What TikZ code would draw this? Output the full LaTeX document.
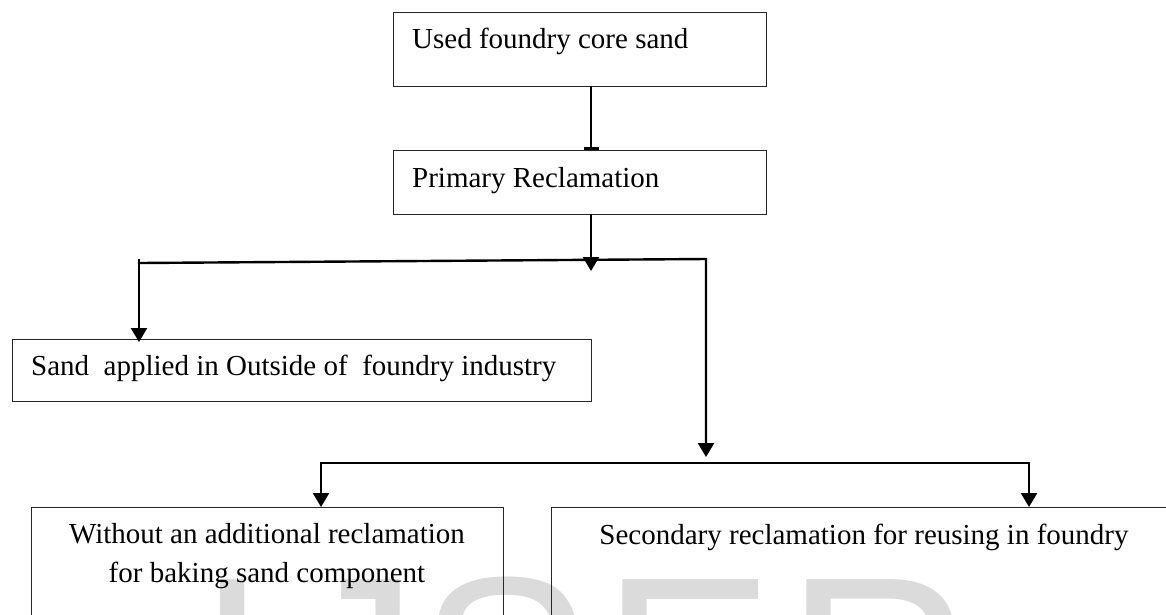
\documentclass[tikz,border=0pt]{standalone}
\usepackage{fontspec}
\setmainfont{Liberation Serif}
\newfontfamily\wmfont{Liberation Sans}
\usetikzlibrary{arrows.meta}
\tikzset{
  boxnode/.style={draw=black!85, line width=1pt, inner sep=0pt, anchor=north west},
  txt/.style={inner sep=0pt, font=\fontsize{29}{39}\selectfont},
  conn/.style={line width=2.4pt, line cap=rect, line join=miter},
  arr/.style={conn, -{Triangle[length=14pt,width=16pt]}},
  bararr/.style={conn, -{Rectangle[length=3pt,width=15pt]}},
  wm/.style={inner sep=0pt, anchor=base west, text=black!14, font=\wmfont\fontsize{260}{260}\selectfont},
}
\begin{document}
\begin{tikzpicture}[x=1pt,y=-1pt]
\useasboundingbox (0,0) rectangle (1166,614);
\clip (0,0) rectangle (1166,614);
\fill[white] (0,0) rectangle (1166,614);
% watermark
\node[wm] (wI) at (196,758) {I};
\node[wm] (wJ) at (289,758) {J};
\node[wm] (wS) at (418,758) {S};
\node[wm] (wE) at (601,758) {E};
\node[wm] (wR) at (785,758) {R};
% boxes
\node[boxnode, minimum width=373pt, minimum height=74pt] (b1) at (393,12) {};
\node[txt, anchor=base west] (t1) at (412,48) {Used foundry core sand};
\node[boxnode, minimum width=373pt, minimum height=64pt] (b2) at (393,150) {};
\node[txt, anchor=base west] (t2) at (412,187) {Primary Reclamation};
\node[boxnode, minimum width=579pt, minimum height=62pt] (sand) at (12,339) {};
\node[txt, anchor=base west] (t3) at (31,375) {Sand\ \ applied in Outside of\ \ foundry industry};
\node[boxnode, minimum width=472pt, minimum height=140pt] (bl) at (31,507) {};
\node[txt, anchor=base] (t4a) at (267,543) {Without an additional reclamation};
\node[txt, anchor=base] (t4b) at (267,582) {for baking sand component};
\node[boxnode, minimum width=627pt, minimum height=140pt] (br) at (551,507) {};
\node[txt, anchor=base] (t5) at (864,544) {Secondary reclamation for reusing in foundry};
% connector coordinates
\coordinate (xa) at (591,0);
\coordinate (tipA) at (591,271);
\coordinate (jLtop) at (139,260);
\coordinate (jL) at (139,263);
\coordinate (jR) at (706,259);
\coordinate (tipB) at (706,457);
\coordinate (mL) at (321,463);
\coordinate (mR) at (1029,463);
% connectors
\draw[bararr] (b1.south -| xa) -- (b2.north -| xa);
\draw[arr] (b2.south -| tipA) -- (tipA);
\draw[arr] (jLtop) -- ([yshift=-3pt]jLtop |- sand.north);
\draw[arr] (jL) -- (jR) -- (tipB);
\draw[arr] (mR) -- (mL) -- (mL |- bl.north);
\draw[arr] (mR) -- (mR |- br.north);
\end{tikzpicture}
\end{document}
